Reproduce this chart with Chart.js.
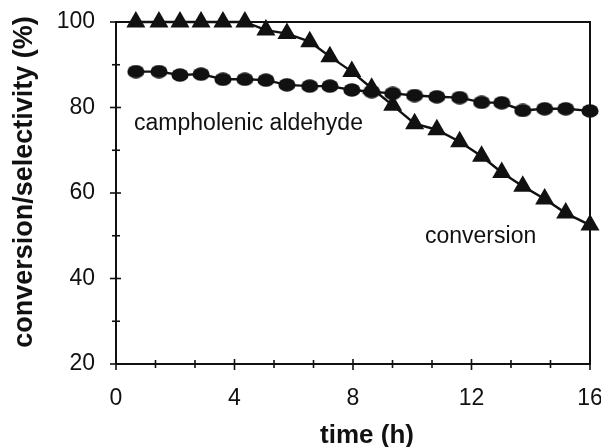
<!DOCTYPE html>
<html><head><meta charset="utf-8">
<script src="https://cdn.jsdelivr.net/npm/chart.js@4.4.1/dist/chart.umd.min.js"></script>
<style>html,body{margin:0;padding:0;background:#fff;overflow:hidden}</style>
</head><body>
<canvas id="c" width="601" height="447"></canvas>
<script>
// ---- data ----
const timeH = [0.67,1.45,2.16,2.87,3.61,4.35,5.06,5.77,6.54,7.22,7.96,8.63,9.34,10.08,10.83,11.6,12.34,13.02,13.73,14.47,15.18,16];
const conversion = [100,100,100,100,100,100,98.1,97.3,95.4,91.9,88.4,84.5,80.5,76.2,74.8,72.0,68.6,64.8,61.6,58.6,55.3,52.5];
const aldehydeSelectivity = [88.4,88.4,87.6,87.8,86.6,86.6,86.4,85.3,85.0,85.0,84.1,83.7,83.3,82.8,82.5,82.3,81.2,81.1,79.3,79.7,79.7,79.2];
const xMajorTicks = [0,4,8,12,16];
const xMinorPerMajor = 3;
const yMajorTicks = [20,40,60,80,100];
const yMinorPerMajor = 2;
const xTitle = 'time (h)';
const yTitle = 'conversion/selectivity (%)';
const annotations = [
  {text:'campholenic aldehyde', x:0.61, y:74.7},
  {text:'conversion', x:10.43, y:48.3}
];

const INK = '#111';
const FONT = '"Liberation Sans", Arial, sans-serif';

function buildTicks(majors, per){
  const out = [];
  for (let i=0;i<majors.length;i++){
    out.push({value:majors[i], major:true});
    if (i<majors.length-1){
      const step=(majors[i+1]-majors[i])/per;
      for(let k=1;k<per;k++) out.push({value:majors[i]+k*step, major:false});
    }
  }
  return out;
}
const isMajor = (v, majors) => majors.some(m => Math.abs(m-v)<1e-6);

// elliptical dot marker
const dot = document.createElement('canvas');
dot.width=18; dot.height=14;
{ const g=dot.getContext('2d'); g.fillStyle=INK; g.beginPath(); g.ellipse(9,7,8.6,6.7,0,0,Math.PI*2); g.fill(); }

const framePlugin = {
  id:'frame',
  beforeDatasetsDraw(chart){
    const {ctx, chartArea:a, scales:{x,y}} = chart;
    ctx.save();
    ctx.strokeStyle=INK; ctx.lineWidth=2;
    ctx.strokeRect(a.left,a.top,a.right-a.left,a.bottom-a.top);
    ctx.lineWidth=1.6;
    x.ticks.forEach(t=>{
      const px=x.getPixelForValue(t.value);
      const mj=isMajor(t.value,xMajorTicks);
      ctx.beginPath(); ctx.moveTo(px,a.bottom-(mj?5:4)); ctx.lineTo(px,a.bottom+(mj?6:4)); ctx.stroke();
    });
    y.ticks.forEach(t=>{
      const py=y.getPixelForValue(t.value);
      const mj=isMajor(t.value,yMajorTicks);
      ctx.beginPath(); ctx.moveTo(a.left-(mj?6:4),py); ctx.lineTo(a.left+(mj?5:4),py); ctx.stroke();
    });
    ctx.restore();
  },
  afterDatasetsDraw(chart){
    const {ctx, chartArea:a, scales:{x,y}} = chart;
    ctx.save();
    ctx.fillStyle=INK;
    ctx.font='23px '+FONT;
    ctx.textBaseline='alphabetic'; ctx.textAlign='left';
    annotations.forEach(n=>ctx.fillText(n.text, x.getPixelForValue(n.x), y.getPixelForValue(n.y)));
    ctx.font='bold 26px '+FONT;
    ctx.textAlign='center'; ctx.textBaseline='middle';
    ctx.fillText(xTitle, (a.left+a.right)/2+14, 436);
    ctx.translate(25,(a.top+a.bottom)/2-11);
    ctx.rotate(-Math.PI/2);
    ctx.font='bold 27px '+FONT;
    ctx.fillText(yTitle,0,0);
    ctx.restore();
  }
};

new Chart(document.getElementById('c'), {
  type:'line',
  data:{
    datasets:[
      {label:'conversion', data:timeH.map((t,i)=>({x:t,y:conversion[i]})),
       borderColor:INK, backgroundColor:INK, borderWidth:2.4, pointStyle:'triangle', pointRadius:11,
       pointBorderWidth:0, pointBackgroundColor:INK, tension:0, clip:false},
      {label:'campholenic aldehyde', data:timeH.map((t,i)=>({x:t,y:aldehydeSelectivity[i]})),
       borderColor:INK, backgroundColor:INK, borderWidth:2.4, pointStyle:dot, pointRadius:8,
       tension:0, clip:false}
    ]
  },
  options:{
    responsive:false, animation:false, devicePixelRatio:1,
    layout:{padding:{left:0,right:11,top:22,bottom:0}},
    plugins:{legend:{display:false}, tooltip:{enabled:false}},
    scales:{
      x:{type:'linear', min:0, max:16,
         afterBuildTicks:s=>{s.ticks=buildTicks(xMajorTicks,xMinorPerMajor);},
         afterFit:s=>{s.height=83; s.paddingLeft=0; s.paddingRight=0;},
         grid:{display:true, drawOnChartArea:false, drawTicks:false},
         border:{display:false},
         ticks:{autoSkip:false, maxRotation:0, padding:21, color:INK, font:{family:FONT,size:23},
                callback:v=>isMajor(v,xMajorTicks)?String(Math.round(v)):''}},
      y:{type:'linear', min:20, max:100,
         afterBuildTicks:s=>{s.ticks=buildTicks(yMajorTicks,yMinorPerMajor);},
         afterFit:s=>{s.width=116; s.paddingTop=0; s.paddingBottom=0;},
         grid:{display:true, drawOnChartArea:false, drawTicks:false},
         border:{display:false},
         ticks:{autoSkip:false, padding:21, color:INK, font:{family:FONT,size:23},
                callback:v=>isMajor(v,yMajorTicks)?String(Math.round(v)):''}}
    }
  },
  plugins:[framePlugin]
});
</script>
</body></html>
